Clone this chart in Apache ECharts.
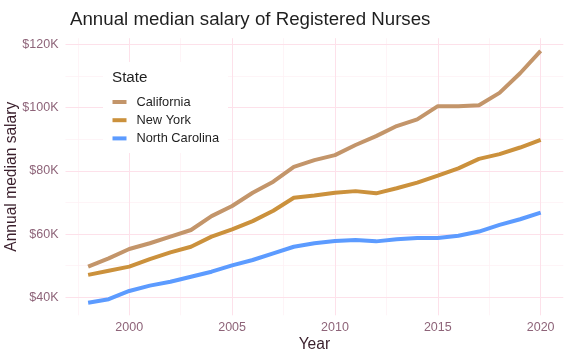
<!DOCTYPE html>
<html>
<head>
<meta charset="utf-8">
<script src="https://cdn.jsdelivr.net/npm/echarts@6/dist/echarts.min.js"></script>
<style>
html,body{margin:0;padding:0;background:#fff;}
#chart{width:577px;height:364px;}
</style>
</head>
<body>
<div id="chart"></div>
<script>
// Data (salaries in thousands of USD)
const years = [1998,1999,2000,2001,2002,2003,2004,2005,2006,2007,2008,2009,2010,2011,2012,2013,2014,2015,2016,2017,2018,2019,2020];
const california = [49.7,52.3,55.3,57.1,59.2,61.3,65.7,68.9,73.1,76.6,81.3,83.4,85.0,88.2,91.0,94.2,96.3,100.5,100.5,100.8,104.7,110.9,118.0];
const newYork = [47.1,48.4,49.7,52.1,54.2,56.0,59.2,61.5,64.1,67.4,71.5,72.2,73.1,73.6,72.9,74.5,76.3,78.5,80.8,83.8,85.3,87.4,89.8];
const northCarolina = [38.3,39.4,42.0,43.7,44.9,46.5,48.1,50.1,51.8,53.9,56.0,57.1,57.8,58.1,57.7,58.4,58.8,58.8,59.5,60.8,62.9,64.7,66.8];
const seriesNames = ['California','New York','North Carolina'];
const xTicks = [2000,2005,2010,2015,2020];
const xMinor = [1997.5,2002.5,2007.5,2012.5,2017.5];
const yTicks = [40,60,80,100,120];
const yMinor = [50,70,90,110];

const colors = ['#C3956A','#CB913C','#5C9BFF'];
const pair = arr => years.map((y,i)=>[y,arr[i]]);

const majorStyle = {color:'#FDE1EA', width:1, type:'solid'};
const minorStyle = {color:'#FEEFF3', width:0.7, type:'solid'};
const gridLines = [];
xMinor.forEach(v=>gridLines.push({xAxis:v, lineStyle:minorStyle}));
yMinor.forEach(v=>gridLines.push({yAxis:v, lineStyle:minorStyle}));
xTicks.forEach(v=>gridLines.push({xAxis:v, lineStyle:majorStyle}));
yTicks.forEach(v=>gridLines.push({yAxis:v, lineStyle:majorStyle}));

const chart = echarts.init(document.getElementById('chart'), null, {renderer:'canvas'});
const tickColor = '#8E6479';
const titleColor = '#3A1F2C';
chart.setOption({
  animation:false,
  backgroundColor:'#fff',
  textStyle:{fontFamily:'Liberation Sans, Arial, sans-serif'},
  title:{
    text:'Annual median salary of Registered Nurses',
    left:65, top:5,
    textStyle:{fontSize:18.7, fontWeight:'normal', color:'#1f1f1f', fontFamily:'Liberation Sans'}
  },
  grid:{left:65.5, right:13.7, top:38.2, bottom:48.7, containLabel:false, outerBoundsMode:'none'},
  xAxis:{
    type:'value', min:1996.9, max:2021.1,
    name:'Year', nameLocation:'middle', nameGap:21, nameMoveOverlap:false,
    nameTextStyle:{fontSize:15.6, color:titleColor, fontFamily:'Liberation Sans'},
    axisLine:{show:false}, axisTick:{show:false}, splitLine:{show:false},
    axisLabel:{customValues:xTicks, color:tickColor, fontSize:12.5, margin:6, formatter:v=>String(v), fontFamily:'Liberation Sans'}
  },
  yAxis:{
    type:'value', min:34.3, max:122,
    name:'Annual median salary', nameLocation:'middle', nameGap:46, nameRotate:90, nameMoveOverlap:false,
    nameTextStyle:{fontSize:15.6, color:titleColor, fontFamily:'Liberation Sans'},
    axisLine:{show:false}, axisTick:{show:false}, splitLine:{show:false},
    axisLabel:{customValues:yTicks, color:tickColor, fontSize:12.5, margin:7, formatter:v=>'$'+v+'K', fontFamily:'Liberation Sans'}
  },
  legend:{
    data:seriesNames, orient:'vertical', left:112.5, top:95.5, padding:0,
    icon:'rect', itemWidth:14, itemHeight:4, itemGap:5.2,
    textStyle:{fontSize:12.8, color:'#1f1f1f', padding:[0,0,0,5], fontFamily:'Liberation Sans'},
    z:20
  },
  graphic:[
    {type:'rect', shape:{x:103, y:62, width:125, height:91}, style:{fill:'#fff'}, z:10, silent:true},
    {type:'text', x:112, y:70, style:{text:'State', fontSize:15.2, fill:'#1f1f1f', fontFamily:'Liberation Sans'}, z:11, silent:true}
  ],
  series:[
    {type:'line', name:'_grid', data:[], z:1, zlevel:0, silent:true,
      markLine:{silent:true, symbol:'none', label:{show:false}, animation:false, z:1, data:gridLines}},
    {type:'line', name:seriesNames[0], data:pair(california), showSymbol:false, lineStyle:{width:4, color:colors[0]}, itemStyle:{color:colors[0]}, z:6},
    {type:'line', name:seriesNames[1], data:pair(newYork), showSymbol:false, lineStyle:{width:4, color:colors[1]}, itemStyle:{color:colors[1]}, z:6},
    {type:'line', name:seriesNames[2], data:pair(northCarolina), showSymbol:false, lineStyle:{width:4, color:colors[2]}, itemStyle:{color:colors[2]}, z:6}
  ]
});
</script>
</body>
</html>
